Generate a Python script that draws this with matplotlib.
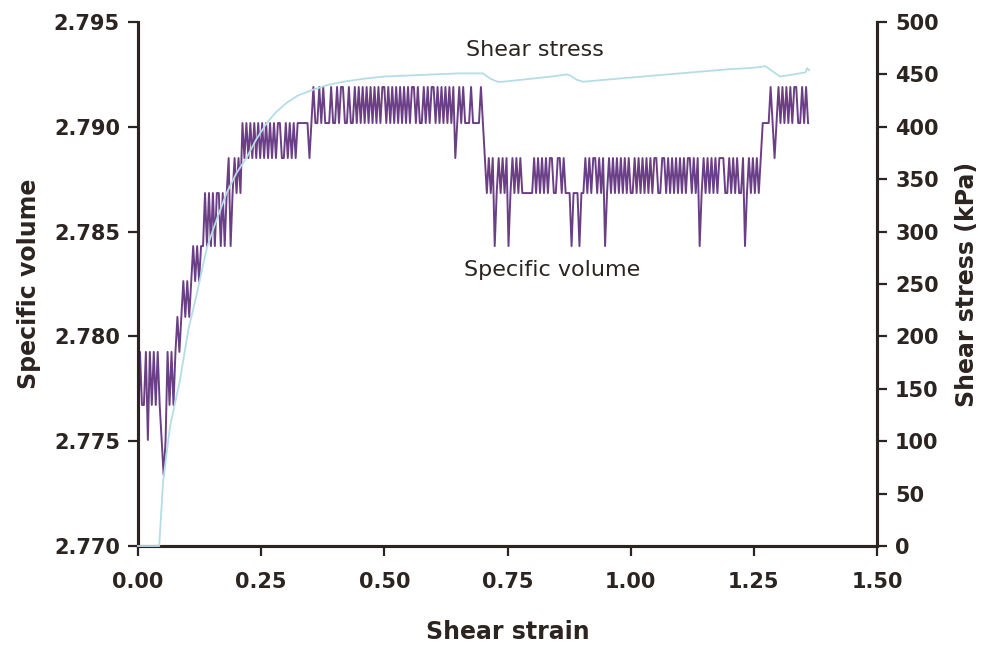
import matplotlib
matplotlib.use('Agg')
import matplotlib.pyplot as plt
import numpy as np
from matplotlib.ticker import FormatStrFormatter, MultipleLocator

# Specific volume is logged in discrete steps; each code maps to one level
volume_levels = {
    '0': 2.77339, '1': 2.77506, '2': 2.77673, '3': 2.77926,
    '4': 2.78093, '5': 2.78264, '6': 2.78431, '7': 2.78684,
    '8': 2.78851, '9': 2.79018, 'a': 2.79190,
}
# one code per reading, readings every 0.004 shear strain
volume_codes = [
    '1322313232321013232',
    '3434', '5454', '5656566',
    '767676776767',
    '8678787',
    '9898989', '8989898', '9898998', '8989898', '999999',
    '8',
    '9a99a9a999a99a9aa99a99',
    'a9a9a9a9a9', 'a9a9aa9a9a', '9a9a9a9a9a', 'a9a99a9a9a', 'a9a9a9a9a9', 'a',
    '8',
    '9a9a999a9999a',
    '98',
    '7878', '6', '787878', '6', '787878', '777777',
    '87878787887788787', '77', '6', '777', '6', '77', '8787887878', '6',
    '7878787878', '7877878787', '8787887788', '7878787878', '7887878',
    '6',
    '7878787878', '8877878787', '78',
    '6',
    '7878787',
    '8', '9', '999', 'a', '9', '8', '9a9a9a9a9', 'aa', '99', 'a9a9',
]
strain_step = 0.004

stress_strain = [0, 0.043, 0.051, 0.065, 0.085, 0.102, 0.119, 0.140, 0.160,
                 0.180, 0.200, 0.221, 0.240, 0.262, 0.280, 0.302, 0.325, 0.353,
                 0.385, 0.416, 0.46, 0.50, 0.55, 0.60, 0.65, 0.70, 0.715, 0.73,
                 0.741, 0.76, 0.80, 0.84, 0.87, 0.877, 0.89, 0.903, 0.95, 1.00,
                 1.05, 1.10, 1.15, 1.20, 1.24, 1.262, 1.273, 1.288, 1.303, 1.33,
                 1.355, 1.358, 1.362]
shear_stress = [0, 0, 62, 114, 158, 206, 240, 285, 312, 337, 356, 371, 388,
                404, 414, 423, 430, 435, 440, 443, 446, 448, 449, 450, 451, 451,
                446, 443, 443, 444, 446, 448, 450, 449, 445, 443, 445, 447, 449,
                451, 453, 455, 456, 457, 458, 453, 448, 450, 452, 456, 454]

codes = ''.join(volume_codes)
volume = [volume_levels[c] for c in codes]
strain = np.arange(len(volume)) * strain_step

text_color = '#2b2420'
purple = '#6b3f86'
light_blue = '#b5dde8'

fig, ax = plt.subplots(figsize=(9.9, 6.48), dpi=100)
fig.subplots_adjust(left=0.1394, right=0.8859, top=0.966, bottom=0.1574)

ax.plot(strain, volume, color=purple, linewidth=1.4)
ax.set_xlim(0, 1.5)
ax.set_ylim(2.770, 2.795)
ax.xaxis.set_major_locator(MultipleLocator(0.25))
ax.yaxis.set_major_locator(MultipleLocator(0.005))
ax.xaxis.set_major_formatter(FormatStrFormatter('%.2f'))
ax.yaxis.set_major_formatter(FormatStrFormatter('%.3f'))
ax.set_xlabel('Shear strain', fontsize=17, fontweight='bold', color=text_color, labelpad=20)
ax.set_ylabel('Specific volume', fontsize=17, fontweight='bold', color=text_color, labelpad=9)

ax2 = ax.twinx()
ax2.plot(stress_strain, shear_stress, color=light_blue, linewidth=1.3,
         clip_on=False, zorder=5)
ax2.set_ylim(0, 500)
ax2.yaxis.set_major_locator(MultipleLocator(50))
ax2.set_ylabel('Shear stress (kPa)', fontsize=17, fontweight='bold', color=text_color, labelpad=12)

for a in (ax, ax2):
    a.tick_params(axis='both', direction='out', length=7, width=1.6,
                  colors=text_color, labelsize=15, pad=6)
    a.tick_params(axis='x', pad=12)
    for lbl in a.get_xticklabels() + a.get_yticklabels():
        lbl.set_fontweight('bold')
    a.spines['top'].set_visible(False)
    for side in ('left', 'right', 'bottom'):
        a.spines[side].set_linewidth(2.2)
        a.spines[side].set_color(text_color)

ax2.text(0.806, 473, 'Shear stress', fontsize=16, color=text_color,
         ha='center', va='center')
ax.text(0.84, 2.78317, 'Specific volume', fontsize=16, color=text_color,
        ha='center', va='center')

fig.savefig('out.png', dpi=100)
